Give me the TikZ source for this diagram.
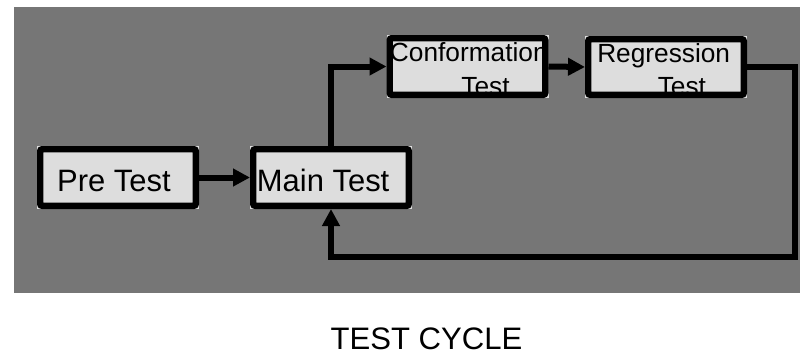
\documentclass[tikz,border=0pt]{standalone}
\usepackage{fontspec}
\setmainfont{Liberation Sans}
\usetikzlibrary{arrows.meta}
\definecolor{bggray}{RGB}{118,118,118}
\definecolor{boxgray}{RGB}{221,221,221}
\newcommand\pxu{0.75pt}
\begin{document}
\begin{tikzpicture}[x=0.75pt, y=-0.75pt,
  boxfill/.style={rectangle, fill=boxgray, draw=none, inner sep=0pt, outer sep=0pt},
  boxline/.style={draw=black, line width=4.8pt, rounded corners=1.5pt},
  conn/.style={draw=black, line width=4.5pt, line join=miter, -{Triangle[length=12.75pt,width=12.75pt]}},
  bigtxt/.style={font=\fontsize{23.2}{28}\selectfont, inner sep=0pt, anchor=base west},
  smalltxt/.style={font=\fontsize{19.7}{24}\selectfont, inner sep=0pt, anchor=base west},
]
\useasboundingbox (0,0) rectangle (800,354);
\fill[bggray] (14,7) rectangle (800,293);
% box fills
\node[boxfill, minimum width=162*\pxu, minimum height=63*\pxu] (pre) at (118,177.5) {};
\node[boxfill, minimum width=162*\pxu, minimum height=63*\pxu] (main) at (331,177.5) {};
\node[boxfill, minimum width=162*\pxu, minimum height=63*\pxu] (conf) at (467.5,66.5) {};
\node[boxfill, minimum width=162*\pxu, minimum height=62*\pxu] (reg) at (666,67) {};
% texts
\node[bigtxt] (pretxt) at (56.9,191) {Pre Test};
\node[bigtxt] (maintxt) at (256.7,191) {Main Test};
\node[smalltxt] (conftxta) at (389.7,61.5) {Conformation};
\node[smalltxt] (conftxtb) at (461.2,95.5) {Test};
\node[smalltxt] (regtxta) at (597,62) {Regression};
\node[smalltxt] (regtxtb) at (657.5,95.5) {Test};
% borders
\foreach \n in {pre,main,conf,reg}
  \draw[boxline] ([shift={(3.2,3.2)}]\n.north west) rectangle ([shift={(-3.2,-3.2)}]\n.south east);
% connectors
\coordinate (fb) at (795,257);
\draw[conn] (pre.east) -- (main.west);
\draw[conn] (main.north) |- (conf.west);
\draw[conn] (conf.east) -- (reg.west);
\draw[conn] (reg.east) -| (fb) -| (main.south);
% caption
\node[font=\fontsize{23.3}{28}\selectfont, inner sep=0pt, anchor=base] (title) at (426.5,349.5) {TEST CYCLE};
\end{tikzpicture}
\end{document}
